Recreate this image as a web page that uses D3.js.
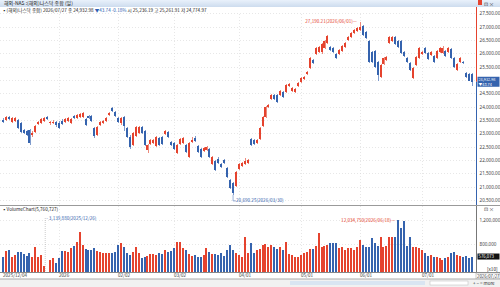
<!DOCTYPE html>
<html>
<head>
<meta charset="utf-8">
<script src="https://cdn.jsdelivr.net/npm/d3@7"></script>
<style>
  body { margin: 0; background: #fff; }
  svg { display: block; font-family: "Noto Sans CJK KR", "Noto Sans", sans-serif; }
</style>
</head>
<body>
<div id="chart"></div>
<script>
// trading calendar (US session, NASDAQ)
const startDate = "2025-12-04", endDate = "2026-07-27";
const holidays = ["2025-12-25", "2026-01-01", "2026-01-19", "2026-02-16",
                  "2026-04-03", "2026-05-25", "2026-06-19", "2026-07-03"];

// [open, high, low, close] per trading day
const ohlc = [
  [23500,23560,23390,23425],[23500,23640,23470,23600],[23625,23660,23490,23525],[23435,23600,23400,23565],
  [23475,23610,23440,23565],[23500,23540,23150,23190],[23375,23410,23020,23060],[23125,23170,22960,23000],
  [23090,23130,22900,22940],[23125,23160,22560,22650],[22940,23100,22880,23000],[23060,23310,23020,23275],
  [23350,23470,23310,23435],[23375,23560,23340,23525],[23475,23600,23440,23565],[23600,23640,23490,23525],
  [23375,23480,23330,23435],[23400,23490,23360,23440],[23440,23480,23250,23300],[23380,23470,23150,23190],
  [23475,23520,23300,23350],[23420,23560,23380,23525],[23475,23600,23440,23565],[23400,23560,23360,23525],
  [23650,23690,23530,23565],[23565,23720,23530,23690],[23600,23760,23570,23725],[23625,23790,23590,23750],
  [23525,23570,23270,23310],[23660,23700,23530,23565],[23650,23690,23440,23475],[23190,23230,22840,22900],
  [22940,23260,22900,23225],[23310,23470,23270,23435],[23375,23500,23340,23460],[23475,23600,23440,23565],
  [23690,23810,23650,23775],[23940,23990,23810,23850],[23810,23850,23610,23650],[23565,23600,23390,23435],
  [23375,23600,23330,23565],[23625,23660,23100,23275],[23190,23230,22830,22875],[22875,22920,22430,22475],
  [22560,23060,22520,23025],[22900,23260,22860,23225],[23025,23270,22990,23225],[23250,23290,22980,23025],
  [23100,23140,22520,22560],[22375,22600,22280,22560],[22600,22790,22560,22750],[22640,22790,22600,22750],
  [22525,22910,22480,22875],[22825,22870,22520,22560],[22850,22890,22560,22600],[22975,23140,22940,23100],
  [23060,23100,22810,22850],[22690,22730,22520,22560],[22650,22690,22360,22400],[22275,22600,22230,22560],
  [22600,22830,22560,22790],[22650,22850,22610,22810],[22560,22600,22270,22310],[22100,22690,22060,22650],
  [22690,22860,22650,22750],[22810,22900,22680,22720],[22525,22560,22270,22310],[22410,22450,22070,22110],
  [22350,22480,22310,22440],[22375,22510,22340,22475],[22400,22440,22080,22125],[21850,22140,21810,22100],
  [21975,22010,21580,21625],[22025,22100,21840,21875],[21850,21890,21710,21750],[22000,22040,21840,21875],
  [21690,21730,21310,21350],[21250,21290,20900,20940],[21125,21160,20690.25,20775],[21025,21600,20990,21560],
  [21650,21890,21610,21850],[21775,21940,21740,21900],[21850,22090,21810,21975],[21875,22040,21840,22000],
  [22775,22820,22520,22560],[22750,22790,22560,22600],[22650,22790,22610,22750],[22775,23230,22740,23190],
  [23275,23660,23240,23625],[23625,24040,23590,24000],[24000,24100,23960,24060],[24275,24480,24240,24440],
  [24440,24480,24240,24275],[24440,24480,24150,24190],[24440,24640,24400,24600],[24560,24600,24340,24375],
  [24560,24850,24520,24810],[24790,24890,24750,24850],[24600,24730,24560,24690],[24560,24690,24520,24650],
  [24775,24940,24740,24900],[24935,25100,24900,25060],[25025,25160,24990,25125],[25225,25350,25190,25310],
  [25440,25850,25400,25810],[25750,25790,25590,25625],[25965,26250,25930,26210],[26060,26290,26020,26250],
  [26060,26380,25960,26340],[26190,26500,26150,26460],[26375,26700,26340,26660],[26250,26290,26090,26125],
  [26210,26250,26020,26060],[25965,26000,25770,25810],[25965,26160,25930,26125],[26090,26330,26050,26290],
  [26250,26410,26210,26375],[26500,26660,26460,26625],[26625,26790,26590,26750],[26750,26910,26710,26875],
  [26840,27000,26800,26960],[26875,27190.21,26840,27000],[27040,27080,26650,26690],[26810,26850,26520,26560],
  [26460,26500,25650,25690],[26060,26100,25650,25690],[26090,26130,25460,25500],[25690,25730,24960,25190],
  [25125,25600,25090,25560],[25590,25880,25550,25840],[25750,25910,25710,25875],[26375,26660,26340,26625],
  [26460,26660,26420,26625],[26625,26660,26300,26340],[26460,26500,26210,26250],[26460,26500,25960,26000],
  [26050,26090,25860,25900],[25810,25850,25650,25690],[25625,25660,25340,25375],[25060,25480,25020,25440],
  [25560,25910,25520,25875],[25810,26230,25770,26190],[25965,26100,25930,26060],[26190,26230,25960,26000],
  [26000,26040,25750,25790],[25940,26100,25900,26060],[25910,25950,25650,25690],[25840,26130,25800,26090],
  [26060,26230,26020,26190],[26000,26290,25960,26190],[26090,26130,25870,25910],[26060,26230,26020,26190],
  [26160,26200,25770,25810],[25810,25850,25460,25500],[25375,25630,25340,25590],[25690,25850,25650,25810],
  [25690,25730,25590,25625],[25250,25290,25090,25125],[25225,25260,24960,24976.72],[25236.19,25261.91,24774.97,24932.98]
];

// daily volume (shares)
const volume = [
  5730000,6720000,6890000,5730000,6030000,6600000,6600000,6150000,5900000,6320000,
  5730000,7460000,5730000,6030000,4200000,3139880,5160000,5560000,4640000,5460000,
  6720000,6720000,6490000,7180000,7630000,8330000,10050000,7750000,7060000,6890000,
  6890000,7290000,6720000,6490000,6320000,6320000,6320000,6320000,6600000,7750000,
  8050000,7460000,6320000,6030000,6600000,7460000,6320000,5560000,5730000,5850000,
  6150000,6150000,6030000,6320000,6200000,6890000,6550000,6720000,7290000,8330000,
  8330000,7180000,6890000,6150000,5900000,6030000,5730000,5730000,6030000,7180000,
  6600000,6200000,6200000,6030000,6320000,5850000,6890000,7750000,6890000,6320000,
  6030000,5730000,9090000,6320000,8050000,6320000,6890000,7010000,7750000,7930000,
  7460000,7750000,7360000,7010000,7360000,6890000,8330000,6200000,6030000,5730000,
  5730000,6030000,6320000,6600000,7010000,7010000,7580000,9880000,7360000,7580000,
  7750000,8150000,8050000,8150000,7180000,7360000,6890000,7180000,7180000,6890000,
  7360000,8620000,7750000,7460000,7360000,8910000,8050000,7580000,9090000,7360000,
  7580000,9090000,9190000,9090000,12034750,10640000,11850000,7580000,9190000,7360000,
  7360000,7180000,6890000,6320000,5850000,6030000,5730000,5600000,5460000,5160000,
  5460000,5730000,6320000,6600000,6030000,5850000,5730000,5900000,5460000,5760727
];

const priceTicks = d3.range(20500, 27501, 500);
const volumeTicks = [8000000, 12000000];
const monthTicks = ["2025-12-04", "2026-01-02", "2026-02-02", "2026-03-02", "2026-04-01",
                    "2026-05-01", "2026-06-01", "2026-07-01"];

const titleText = "해외-NAS :(해외)나스닥 종합 (일)";
const infoParts = [
  {t: "(해외)나스닥 종합) 2026/07/27 종 24,932.98 ", c: "#222"},
  {t: "▼43.74 -0.18% ", c: "#2f5fb3"},
  {t: "시 25,236.19 고 25,261.91 저 24,774.97", c: "#222"}
];

// build the date list
const dates = [];
for (let d = new Date(startDate + "T00:00:00Z"); d <= new Date(endDate + "T00:00:00Z"); d.setUTCDate(d.getUTCDate() + 1)) {
  const s = d.toISOString().slice(0, 10);
  const wd = d.getUTCDay();
  if (wd === 0 || wd === 6 || holidays.includes(s)) continue;
  dates.push(s);
}
const data = dates.map((date, i) => ({
  date, open: ohlc[i][0], high: ohlc[i][1], low: ohlc[i][2], close: ohlc[i][3], vol: volume[i]
}));

const W = 500, H = 287;
const RED = "#e5432e", BLUE = "#3563ae";
const axisX = 476.5;
const mainTop = 8, mainBottom = 205.5, volTop = 206, volBottom = 272.5;

const svg = d3.select("#chart").append("svg")
  .attr("width", W).attr("height", H);

svg.append("rect").attr("width", W).attr("height", H).attr("fill", "#fff");

const x = d3.scaleBand().domain(dates).range([1.5, 473.5]).paddingInner(0.3).paddingOuter(0.15);
const cx = d => x(d) + x.bandwidth() / 2;
const y = d3.scaleLinear().domain([20500, 27500]).range([200, 13.3]);
const yv = d3.scaleLinear().domain([3000000, 14500000]).range([volBottom, volTop]);
const last = data[data.length - 1];
const tagY = y(last.close);

// title bar
const grad = svg.append("defs").append("linearGradient").attr("id", "tb").attr("x1", 0).attr("x2", 0).attr("y1", 0).attr("y2", 1);
grad.append("stop").attr("offset", 0).attr("stop-color", "#e9f1fb");
grad.append("stop").attr("offset", 1).attr("stop-color", "#cddcee");
svg.append("rect").attr("x", 0).attr("y", 0).attr("width", W).attr("height", 7).attr("fill", "url(#tb)");
svg.append("text").attr("x", 4).attr("y", 5.4).attr("font-size", 5).attr("fill", "#222").text(titleText);
svg.append("rect").attr("x", 478).attr("y", 0).attr("width", 4).attr("height", 5).attr("fill", RED);
svg.append("text").attr("x", 484).attr("y", 5.5).attr("font-size", 5).attr("fill", "#333").text("⊡ ×");

// main grid
const gMain = svg.append("g");
gMain.selectAll(".hg").data(priceTicks).join("line")
  .attr("x1", 0).attr("x2", axisX).attr("y1", d => Math.round(y(d)) + 0.5).attr("y2", d => Math.round(y(d)) + 0.5)
  .attr("stroke", "#d6d6d6").attr("stroke-width", 0.6).attr("stroke-dasharray", "1,2");
gMain.selectAll(".vg").data(monthTicks.slice(1)).join("line")
  .attr("x1", d => Math.round(cx(d)) + 0.5).attr("x2", d => Math.round(cx(d)) + 0.5)
  .attr("y1", mainTop + 6).attr("y2", volBottom)
  .attr("stroke", "#d6d6d6").attr("stroke-width", 0.6).attr("stroke-dasharray", "1,2");

// info line
const info = svg.append("text").attr("x", 2).attr("y", 12).attr("font-size", 4.6);
info.append("tspan").attr("fill", "#222").text("▪");
infoParts.forEach(p => info.append("tspan").attr("fill", p.c).text(p.t));

// candles
const col = d => d.close >= d.open ? RED : BLUE;
const gC = svg.append("g").attr("shape-rendering", "crispEdges");
gC.selectAll("line").data(data).join("line")
  .attr("x1", d => Math.round(cx(d.date)) + 0.5).attr("x2", d => Math.round(cx(d.date)) + 0.5)
  .attr("y1", d => y(d.high)).attr("y2", d => y(d.low))
  .attr("stroke", d => col(d) === RED ? "#ec8a7c" : "#7f9bcc").attr("stroke-width", 1);
gC.selectAll("rect").data(data).join("rect")
  .attr("x", d => Math.round(x(d.date)))
  .attr("width", 2)
  .attr("y", d => y(Math.max(d.open, d.close)))
  .attr("height", d => Math.max(1, Math.abs(y(d.open) - y(d.close))))
  .attr("fill", col);

// price axis (right)
svg.append("line").attr("x1", axisX).attr("x2", axisX).attr("y1", 7).attr("y2", tagY)
  .attr("stroke", RED).attr("stroke-width", 1);
svg.append("line").attr("x1", axisX).attr("x2", axisX).attr("y1", tagY).attr("y2", mainBottom)
  .attr("stroke", BLUE).attr("stroke-width", 1);
svg.append("g").attr("transform", `translate(${axisX},0)`)
  .call(d3.axisRight(y).tickValues(priceTicks.filter(v => Math.abs(y(v) - tagY) > 7))
    .tickSize(0).tickPadding(3).tickFormat(d3.format(",.2f")))
  .call(g => g.select(".domain").remove())
  .call(g => g.selectAll("text").attr("font-size", 4.6).attr("fill", "#444").attr("font-family", "Noto Sans, sans-serif"));

// current price tag
svg.append("rect").attr("x", axisX + 1).attr("y", tagY - 5).attr("width", 22).attr("height", 10).attr("fill", BLUE);
svg.append("text").attr("x", axisX + 2).attr("y", tagY - 1.2).attr("font-size", 3.8).attr("fill", "#fff").text(d3.format(",.2f")(last.close));
svg.append("text").attr("x", axisX + 2).attr("y", tagY + 3.9).attr("font-size", 3.8).attr("fill", "#fff").text("▼43.74");

// max / min annotations
const hi = data.reduce((a, b) => b.high > a.high ? b : a);
const lo = data.reduce((a, b) => b.low < a.low ? b : a);
const fmtD = s => s.replace(/-/g, "/");
svg.append("text").attr("x", cx(hi.date) - 3).attr("y", y(hi.high) + 1.5).attr("text-anchor", "end")
  .attr("font-size", 4.6).attr("fill", RED).text(`${d3.format(",.2f")(hi.high)}(${fmtD(hi.date)})—`);
svg.append("path").attr("d", `M${cx(lo.date)},${y(lo.low)}V${y(lo.low) + 6}H${cx(lo.date) + 3}`)
  .attr("fill", "none").attr("stroke", BLUE).attr("stroke-width", 0.5);
svg.append("text").attr("x", cx(lo.date) + 3).attr("y", y(lo.low) + 7.5)
  .attr("font-size", 4.6).attr("fill", BLUE).text(`${d3.format(",.2f")(lo.low)}(${fmtD(lo.date)})`);

// panel separator
svg.append("line").attr("x1", 0).attr("x2", W).attr("y1", 205.5).attr("y2", 205.5).attr("stroke", "#9a9a9a").attr("stroke-width", 1);

// volume grid + bars
svg.selectAll(".vh").data(volumeTicks).join("line")
  .attr("x1", 0).attr("x2", axisX).attr("y1", d => Math.round(yv(d)) + 0.5).attr("y2", d => Math.round(yv(d)) + 0.5)
  .attr("stroke", "#d6d6d6").attr("stroke-width", 0.6).attr("stroke-dasharray", "1,2");
svg.append("g").attr("shape-rendering", "crispEdges").selectAll("rect").data(data).join("rect")
  .attr("x", d => Math.round(x(d.date)))
  .attr("width", 2)
  .attr("y", d => yv(d.vol))
  .attr("height", d => Math.max(0, volBottom - yv(d.vol)))
  .attr("fill", col);

svg.append("text").attr("x", 2).attr("y", 210.5).attr("font-size", 4.6).attr("fill", "#222")
  .text(`▪VolumeChart(${d3.format(",")(last.vol)})`);
svg.append("text").attr("x", 484).attr("y", 211).attr("font-size", 5).attr("fill", "#333").text("⊡ ×");

const vHi = data.reduce((a, b) => b.vol > a.vol ? b : a);
const vLo = data.reduce((a, b) => b.vol < a.vol ? b : a);
svg.append("text").attr("x", cx(vHi.date) - 3).attr("y", yv(vHi.vol) + 1.5).attr("text-anchor", "end")
  .attr("font-size", 4.6).attr("fill", RED).text(`${d3.format(",")(vHi.vol)}(${fmtD(vHi.date)})—`);
svg.append("line").attr("x1", cx(vLo.date) - 2).attr("x2", cx(vLo.date) - 2).attr("y1", 218).attr("y2", volBottom)
  .attr("stroke", "#999").attr("stroke-width", 0.5).attr("stroke-dasharray", "1,1");
svg.append("text").attr("x", cx(vLo.date) - 1).attr("y", 219.5)
  .attr("font-size", 4.6).attr("fill", BLUE).text(`- ${d3.format(",")(vLo.vol)}(${fmtD(vLo.date)})`);

// volume axis
svg.append("line").attr("x1", axisX).attr("x2", axisX).attr("y1", volTop).attr("y2", volBottom).attr("stroke", "#777").attr("stroke-width", 1);
svg.append("g").attr("transform", `translate(${axisX},0)`)
  .call(d3.axisRight(yv).tickValues(volumeTicks).tickSize(0).tickPadding(3).tickFormat(d => d3.format(",")(d / 10)))
  .call(g => g.select(".domain").remove())
  .call(g => g.selectAll("text").attr("font-size", 4.6).attr("fill", "#444").attr("font-family", "Noto Sans, sans-serif"));
svg.append("rect").attr("x", axisX + 1).attr("y", yv(last.vol) - 3).attr("width", 22).attr("height", 6).attr("fill", "#111");
svg.append("text").attr("x", axisX + 2).attr("y", yv(last.vol) + 1.6).attr("font-size", 4.3).attr("fill", "#fff")
  .text(d3.format(",")(Math.round(last.vol / 10)));
svg.append("text").attr("x", 487).attr("y", 270.5).attr("font-size", 4.6).attr("fill", "#222").text("[x10]");

// date axis
svg.append("line").attr("x1", 0).attr("x2", W).attr("y1", volBottom).attr("y2", volBottom).attr("stroke", "#888");
const tickLabel = (d, i) => i === 0 ? fmtD(d) : (d.slice(5, 7) === "01" ? d.slice(0, 4) : fmtD(d.slice(5)));
svg.selectAll(".xl").data(monthTicks).join("text")
  .attr("x", d => Math.round(x(d)) + 1).attr("y", 277.3).attr("font-size", 4.6).attr("fill", "#444")
  .text(tickLabel);
svg.append("rect").attr("x", 476).attr("y", 273).attr("width", 24).attr("height", 6).attr("fill", "#fff").attr("stroke", "#999").attr("stroke-width", 0.5);
svg.append("text").attr("x", 477).attr("y", 277.5).attr("font-size", 4.3).attr("fill", "#333").text(fmtD(last.date));

// bottom scroll bar
svg.append("rect").attr("x", 0).attr("y", 279).attr("width", W).attr("height", 8).attr("fill", "#f1f1f1");
svg.append("line").attr("x1", 0).attr("x2", W).attr("y1", 279).attr("y2", 279).attr("stroke", "#aaa");
svg.append("rect").attr("x", 290).attr("y", 281).attr("width", 135).attr("height", 4).attr("fill", "#d9e5f2");
svg.append("rect").attr("x", 430).attr("y", 281).attr("width", 38).attr("height", 4).attr("fill", "#fff").attr("stroke", "#bbb").attr("stroke-width", 0.5);
svg.append("text").attr("x", 473).attr("y", 285).attr("font-size", 4.5).attr("fill", "#333").text("+ − = more");
</script>
</body>
</html>
